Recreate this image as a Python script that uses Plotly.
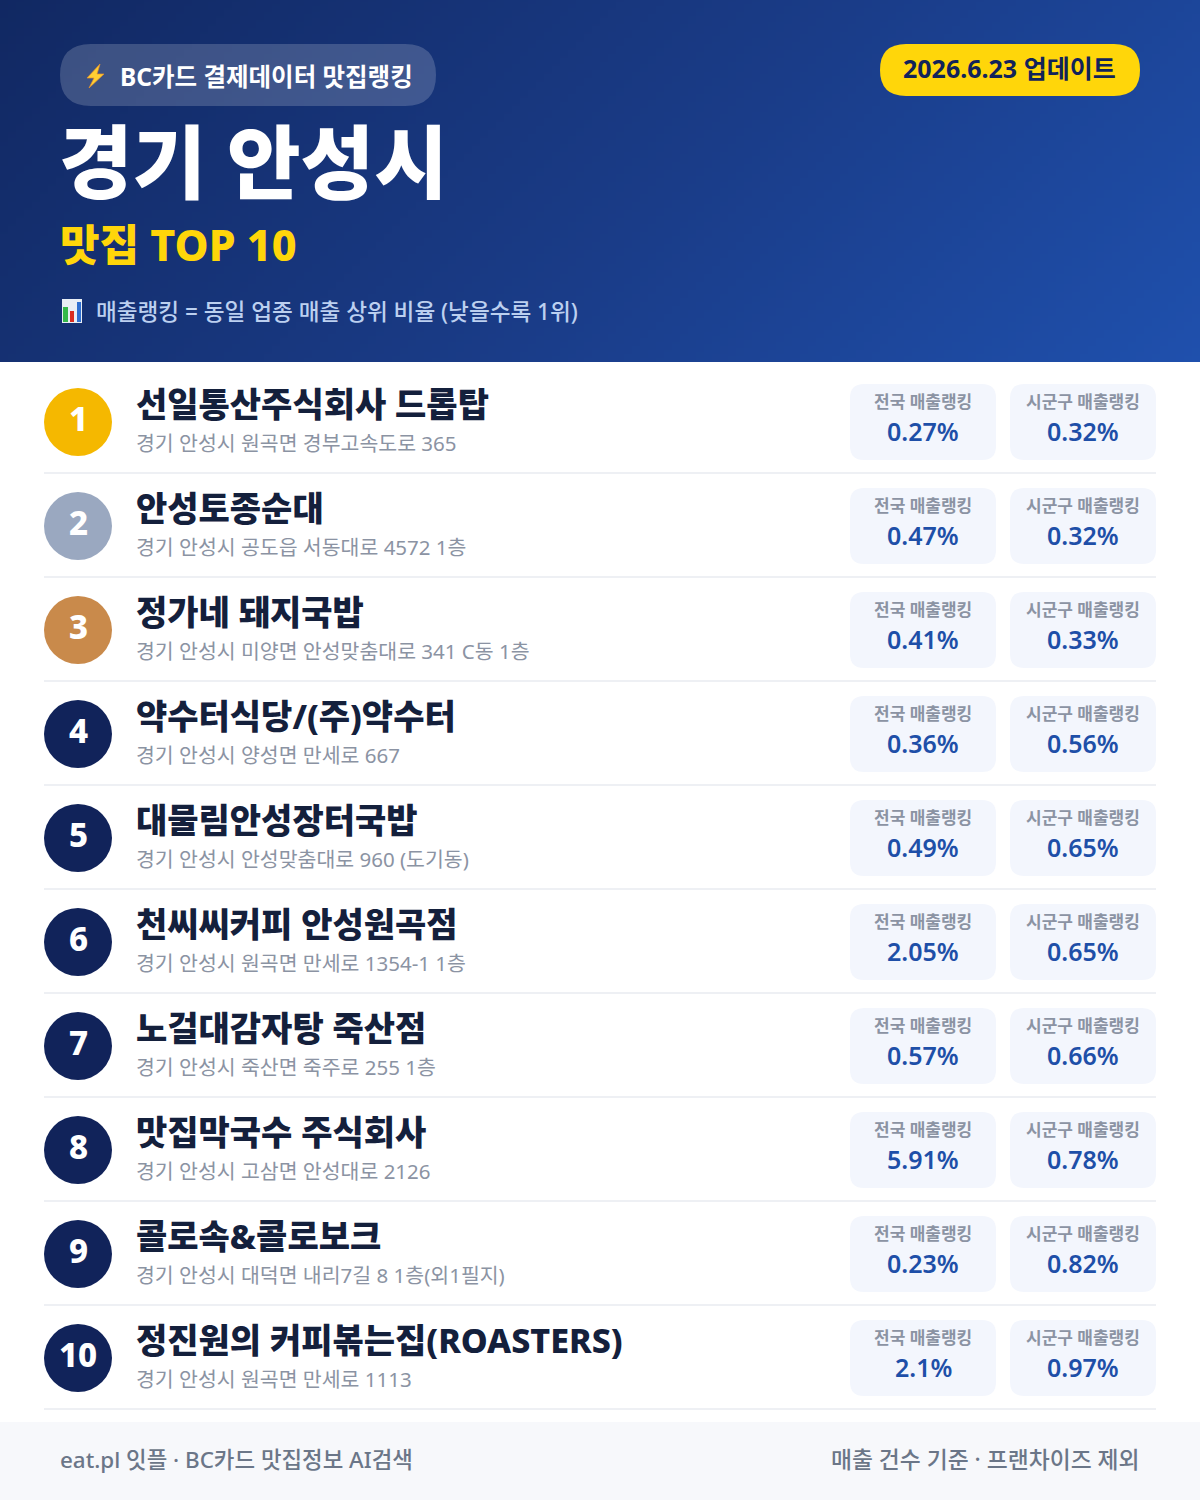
import numpy as np
import plotly.graph_objects as go

FONT = "'Noto Sans', 'Noto Sans CJK KR'"

ranks = [1, 2, 3, 4, 5, 6, 7, 8, 9, 10]
names = [
    "선일통산주식회사 드롭탑", "안성토종순대", "정가네 돼지국밥", "약수터식당/(주)약수터",
    "대물림안성장터국밥", "천씨씨커피 안성원곡점", "노걸대감자탕 죽산점", "맛집막국수 주식회사",
    "콜로속&콜로보크", "정진원의 커피볶는집(ROASTERS)",
]
addresses = [
    "경기 안성시 원곡면 경부고속도로 365", "경기 안성시 공도읍 서동대로 4572 1층",
    "경기 안성시 미양면 안성맞춤대로 341 C동 1층", "경기 안성시 양성면 만세로 667",
    "경기 안성시 안성맞춤대로 960 (도기동)", "경기 안성시 원곡면 만세로 1354-1 1층",
    "경기 안성시 죽산면 죽주로 255 1층", "경기 안성시 고삼면 안성대로 2126",
    "경기 안성시 대덕면 내리7길 8 1층(외1필지)", "경기 안성시 원곡면 만세로 1113",
]
national = ["0.27%", "0.47%", "0.41%", "0.36%", "0.49%", "2.05%", "0.57%", "5.91%", "0.23%", "2.1%"]
local = ["0.32%", "0.32%", "0.33%", "0.56%", "0.65%", "0.65%", "0.66%", "0.78%", "0.82%", "0.97%"]
badge_colors = ["#f5b800", "#9aa8c0", "#c98a4b"] + ["#11235a"] * 7

ROW_H = 104
FIRST_Y = 422


def rrect(x0, y0, x1, y1, r):
    return (f"M{x0+r},{y0} L{x1-r},{y0} Q{x1},{y0} {x1},{y0+r} L{x1},{y1-r} Q{x1},{y1} {x1-r},{y1} "
            f"L{x0+r},{y1} Q{x0},{y1} {x0},{y1-r} L{x0},{y0+r} Q{x0},{y0} {x0+r},{y0} Z")


shapes = []
notes = []


def box(x0, y0, x1, y1, r, color):
    shapes.append(dict(type="path", path=rrect(x0, y0, x1, y1, r), fillcolor=color, line_width=0, layer="above"))


def rect(x0, y0, x1, y1, color):
    shapes.append(dict(type="rect", x0=x0, y0=y0, x1=x1, y1=y1, fillcolor=color, line_width=0, layer="above"))


def label(x, y, text, size, color, weight=400, anchor="left"):
    notes.append(dict(x=x, y=y, text=text, showarrow=False, xanchor=anchor, yanchor="middle",
                      borderpad=0, font=dict(family=FONT, size=size, color=color, weight=weight)))


# header gradient, 135deg
gx = np.arange(4, 1200, 8)
gy = np.arange(1, 362, 2)
xx, yy = np.meshgrid(gx, gy)
grad = ((xx - 600) + (yy - 181)) / (1200 + 362) + 0.5

fig = go.Figure()
fig.add_trace(go.Heatmap(x=gx, y=gy, z=grad, zmin=0, zmax=1, showscale=False, hoverinfo="skip",
                         colorscale=[[0, "#112862"], [0.55, "#1a3c88"], [1, "#1f50ad"]]))

# header
box(60, 44, 436, 106, 31, "rgba(255,255,255,0.18)")
box(880, 44, 1140, 96, 26, "#ffd60a")
# the emoji font is not installed, so both icons are drawn
shapes.append(dict(type="path", path="M100,64 L87,78 L94,78 L89,88 L104,74 L97,74 Z",
                   fillcolor="#ffcf33", line=dict(color="#e8902a", width=0.7), layer="above"))
rect(62, 299, 82, 323, "#e8eef5")
rect(63, 307, 68, 322, "#35b84a")
rect(70, 311, 74, 322, "#d92d20")
rect(77, 302, 81, 322, "#2f6fd0")
label(118.5, 76, "BC카드 결제데이터 맛집랭킹", 24.5, "#ffffff", 700)
label(1009, 68, "2026.6.23 업데이트", 25, "#11235a", 700, "center")
label(58, 160, "경기 안성시", 80, "#ffffff", 800)
label(58.5, 244, "맛집 TOP 10", 43, "#ffd60a", 800)
label(95, 311, "매출랭킹 = 동일 업종 매출 상위 비율 (낮을수록 1위)", 22.6, "#bcd0f0", 500)

# rows
ys = [FIRST_Y + i * ROW_H for i in range(len(ranks))]
for i, y in enumerate(ys):
    rect(44, y + 50, 1156, y + 52, "#eef0f4")
    box(850, y - 38, 996, y + 38, 14, "#f3f6fd")
    box(1010, y - 38, 1156, y + 38, 14, "#f3f6fd")
    label(78, y - 4, str(ranks[i]), 33, "#ffffff", 800, "center")
    label(134.5, y - 18, names[i], 34, "#14203c", 800)
    label(135, y + 21, addresses[i], 20.5, "#8b93a3", 400)
    label(923, y - 21, "전국 매출랭킹", 17, "#8b93a3", 600, "center")
    label(1083, y - 21, "시군구 매출랭킹", 17, "#8b93a3", 600, "center")
    label(923, y + 9, national[i], 25, "#1e4fa8", 600, "center")
    label(1083, y + 9, local[i], 25, "#1e4fa8", 600, "center")

fig.add_trace(go.Scatter(x=[78] * len(ranks), y=ys, mode="markers", hoverinfo="skip",
                         marker=dict(size=68, color=badge_colors, line_width=0)))

# footer
rect(0, 1422, 1200, 1500, "#f7f8fb")
label(59, 1459, "eat.pl 잇플 · BC카드 맛집정보 AI검색", 22.4, "#6b7688", 500)
label(1141, 1459, "매출 건수 기준 · 프랜차이즈 제외", 22.8, "#6b7688", 500, "right")

fig.update_layout(
    width=1200, height=1500, margin=dict(l=0, r=0, t=0, b=0),
    paper_bgcolor="#ffffff", plot_bgcolor="#ffffff", showlegend=False,
    xaxis=dict(range=[0, 1200], visible=False, fixedrange=True),
    yaxis=dict(range=[1500, 0], visible=False, fixedrange=True),
    shapes=shapes, annotations=notes,
)
fig.write_html("out.html", config={"displayModeBar": False},
               post_script="document.body.style.margin='0';")
